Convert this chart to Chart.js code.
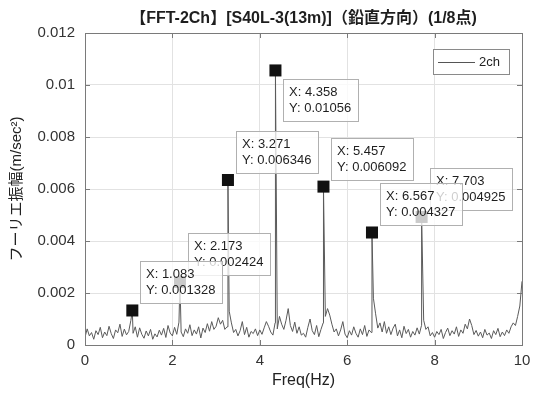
<!DOCTYPE html>
<html>
<head>
<meta charset="utf-8">
<script src="https://cdn.jsdelivr.net/npm/chart.js@4.4.1/dist/chart.umd.min.js"></script>
<style>
  body { margin: 0; background: #fff; }
  canvas { display: block; }
</style>
</head>
<body>
<canvas id="fftChart" width="534" height="396"></canvas>
<script>
const freqStep = 0.05;
const noiseAmps = [
  0.00030, 0.00062, 0.00035, 0.00048, 0.00022, 0.00055, 0.00040, 0.00068, 0.00028, 0.00050,
  0.00036, 0.00072, 0.00044, 0.00025, 0.00058, 0.00047, 0.00080, 0.00033, 0.00061, 0.00039,
  0.00052, 0.00095, 0.00045, 0.00070, 0.00030, 0.00066, 0.00041, 0.00026, 0.00054, 0.00035,
  0.00060, 0.00022, 0.00043, 0.00031, 0.00057, 0.00038, 0.00064, 0.00029, 0.00075, 0.00046,
  0.00035, 0.00068, 0.00041, 0.00088, 0.00050, 0.00032, 0.00062, 0.00045, 0.00078, 0.00036,
  0.00058, 0.00042, 0.00070, 0.00027, 0.00065, 0.00048, 0.00082, 0.00053, 0.00090, 0.00060,
  0.00072, 0.00105, 0.00080, 0.00095, 0.00060, 0.00070, 0.00130, 0.00085, 0.00048, 0.00060,
  0.00035, 0.00055, 0.00090, 0.00040, 0.00068, 0.00030, 0.00052, 0.00044, 0.00062, 0.00036,
  0.00058, 0.00041, 0.00066, 0.00090, 0.00072, 0.00050, 0.00038, 0.00085, 0.00062, 0.00110,
  0.00080, 0.00060, 0.00095, 0.00140, 0.00075, 0.00052, 0.00088, 0.00045, 0.00070, 0.00038,
  0.00045, 0.00030, 0.00068, 0.00100, 0.00055, 0.00040, 0.00075, 0.00032, 0.00060, 0.00085,
  0.00110, 0.00140, 0.00115, 0.00080, 0.00050, 0.00062, 0.00035, 0.00058, 0.00090, 0.00042,
  0.00028, 0.00055, 0.00038, 0.00070, 0.00045, 0.00030, 0.00062, 0.00040, 0.00075, 0.00033,
  0.00058, 0.00048, 0.00180, 0.00120, 0.00065, 0.00085, 0.00050, 0.00090, 0.00045, 0.00070,
  0.00040, 0.00065, 0.00080, 0.00035, 0.00058, 0.00028, 0.00072, 0.00044, 0.00060, 0.00030,
  0.00052, 0.00038, 0.00066, 0.00042, 0.00075, 0.00095, 0.00060, 0.00070, 0.00035, 0.00048,
  0.00030, 0.00052, 0.00040, 0.00060, 0.00025, 0.00048, 0.00065, 0.00036, 0.00055, 0.00042,
  0.00070, 0.00033, 0.00058, 0.00045, 0.00080, 0.00062, 0.00100, 0.00075, 0.00040, 0.00056,
  0.00034, 0.00050, 0.00028, 0.00060, 0.00038, 0.00046, 0.00025, 0.00055, 0.00040, 0.00064,
  0.00032, 0.00050, 0.00036, 0.00058, 0.00045, 0.00070, 0.00085, 0.00075, 0.00110, 0.00150,
  0.00245
];

// data tips (peaks)
const peakFreqs = [1.083, 2.173, 3.271, 4.358, 5.457, 6.567, 7.703];
const peakAmps = [0.001328, 0.002424, 0.006346, 0.01056, 0.006092, 0.004327, 0.004925];

const xTicks = [0, 2, 4, 6, 8, 10];
const xTickLabels = ['0', '2', '4', '6', '8', '10'];
const yTicks = [0, 0.002, 0.004, 0.006, 0.008, 0.01, 0.012];
const yTickLabels = ['0', '0.002', '0.004', '0.006', '0.008', '0.01', '0.012'];

const titleText = '【FFT-2Ch】[S40L-3(13m)]（鉛直方向）(1/8点)';
const seriesName = '2ch';

const latin = "'Liberation Sans', Arial, 'Noto Sans CJK JP', sans-serif";

// line points: uniform samples plus the peak samples, in frequency order
const lineData = noiseAmps.map((v, i) => ({ x: +(i * freqStep).toFixed(2), y: v }));
peakFreqs.forEach((f, i) => lineData.push({ x: f, y: peakAmps[i] }));
lineData.sort((a, b) => a.x - b.x);

const markerData = peakFreqs.map((f, i) => ({ x: f, y: peakAmps[i] }));

// frame, inner tick marks, legend, data tips
const extrasPlugin = {
  id: 'extras',
  afterDatasetsDraw(chart) {
    const { ctx, chartArea: a, scales: { x, y } } = chart;
    ctx.save();

    // axes box
    ctx.strokeStyle = '#7a7a7a';
    ctx.lineWidth = 1;
    ctx.strokeRect(Math.round(a.left) + 0.5, Math.round(a.top) + 0.5,
      Math.round(a.right - a.left), Math.round(a.bottom - a.top));

    // inner tick marks
    ctx.beginPath();
    xTicks.forEach(v => {
      const px = Math.round(x.getPixelForValue(v)) + 0.5;
      ctx.moveTo(px, a.bottom); ctx.lineTo(px, a.bottom - 5);
      ctx.moveTo(px, a.top); ctx.lineTo(px, a.top + 5);
    });
    yTicks.forEach(v => {
      const py = Math.round(y.getPixelForValue(v)) + 0.5;
      ctx.moveTo(a.left, py); ctx.lineTo(a.left + 5, py);
      ctx.moveTo(a.right, py); ctx.lineTo(a.right - 5, py);
    });
    ctx.stroke();

    // legend
    const lx = a.right - 89, ly = a.top + 16;
    ctx.fillStyle = '#fff';
    ctx.fillRect(lx, ly, 76, 25);
    ctx.strokeStyle = '#8a8a8a';
    ctx.strokeRect(lx + 0.5, ly + 0.5, 76, 25);
    ctx.strokeStyle = '#555';
    ctx.beginPath();
    ctx.moveTo(lx + 5, ly + 13.5); ctx.lineTo(lx + 42, ly + 13.5);
    ctx.stroke();
    ctx.fillStyle = '#222';
    ctx.font = '13px ' + latin;
    ctx.textBaseline = 'middle';
    ctx.textAlign = 'left';
    ctx.fillText(seriesName, lx + 46, ly + 13);

    // data tips, last first so earlier ones sit on top
    ctx.font = '13px ' + latin;
    for (let i = peakFreqs.length - 1; i >= 0; i--) {
      const px = x.getPixelForValue(peakFreqs[i]);
      const py = y.getPixelForValue(peakAmps[i]);
      const l1 = 'X: ' + peakFreqs[i];
      const l2 = 'Y: ' + peakAmps[i];
      const w = Math.ceil(Math.max(ctx.measureText(l1).width, ctx.measureText(l2).width)) + 12;
      const h = 42;
      const bx = Math.round(px + 8);
      const by = i === 3 ? Math.round(py + 9) : Math.round(py - 49);
      ctx.fillStyle = 'rgba(255,255,255,0.78)';
      ctx.fillRect(bx, by, w, h);
      ctx.strokeStyle = '#b0b0b0';
      ctx.strokeRect(bx + 0.5, by + 0.5, w, h);
      ctx.fillStyle = '#1e1e1e';
      ctx.fillText(l1, bx + 6, by + 13);
      ctx.fillText(l2, bx + 6, by + 29);
    }

    // title
    ctx.fillStyle = '#1e1e1e';
    ctx.font = 'bold 16px ' + latin;
    ctx.textAlign = 'center';
    ctx.fillText(titleText, (a.left + a.right) / 2, 19);
    ctx.restore();
  }
};

new Chart(document.getElementById('fftChart'), {
  data: {
    datasets: [
      {
        type: 'line',
        label: seriesName,
        data: lineData,
        borderColor: '#5a5a5a',
        borderWidth: 1,
        pointRadius: 0,
        tension: 0,
        order: 2
      },
      {
        type: 'scatter',
        label: 'tips',
        data: markerData,
        pointStyle: 'rect',
        pointRadius: 8.5,
        backgroundColor: '#111',
        borderColor: '#111',
        borderWidth: 0,
        order: 1
      }
    ]
  },
  options: {
    responsive: false,
    animation: false,
    layout: { padding: { top: 33, right: 12, left: 0, bottom: 0 } },
    plugins: {
      legend: { display: false },
      tooltip: { enabled: false }
    },
    scales: {
      x: {
        type: 'linear',
        min: 0,
        max: 10,
        afterFit: s => { s.height = 51; s.paddingLeft = 0; s.paddingRight = 0; },
        afterBuildTicks: s => { s.ticks = xTicks.map(v => ({ value: v })); },
        ticks: {
          callback: (v) => xTickLabels[xTicks.indexOf(v)],
          color: '#333',
          font: { size: 15, family: latin },
          padding: 7,
          maxRotation: 0
        },
        grid: { color: '#e2e2e2', drawTicks: false },
        border: { display: false },
        title: {
          display: true,
          text: 'Freq(Hz)',
          color: '#222',
          font: { size: 16, family: latin },
          padding: { top: 0, bottom: 6 }
        }
      },
      y: {
        type: 'linear',
        min: 0,
        max: 0.012,
        afterFit: s => { s.width = 85; s.paddingTop = 0; s.paddingBottom = 0; },
        afterBuildTicks: s => { s.ticks = yTicks.map(v => ({ value: v })); },
        ticks: {
          callback: (v) => yTickLabels[yTicks.indexOf(v)],
          color: '#333',
          font: { size: 15, family: latin },
          padding: 10
        },
        grid: { color: '#e2e2e2', drawTicks: false },
        border: { display: false },
        title: {
          display: true,
          text: 'フーリエ振幅(m/sec²)',
          color: '#222',
          font: { size: 15, family: latin },
          padding: { top: 8, bottom: 0 }
        }
      }
    }
  },
  plugins: [extrasPlugin]
});
</script>
</body>
</html>
